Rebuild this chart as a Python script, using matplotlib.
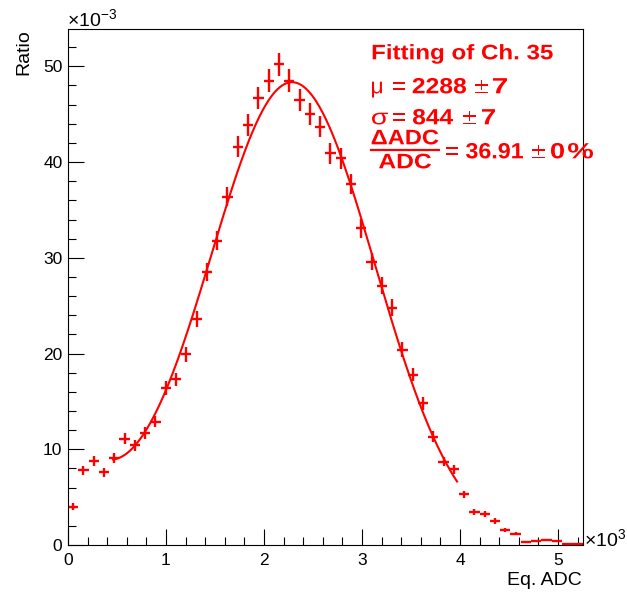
import numpy as np
import matplotlib
matplotlib.use('Agg')
import matplotlib.pyplot as plt
from matplotlib.lines import Line2D
from matplotlib.textpath import TextPath
from matplotlib.patches import PathPatch
from matplotlib.transforms import Affine2D
from matplotlib.font_manager import FontProperties

plt.rcParams['font.family'] = ['Liberation Sans', 'DejaVu Sans']
plt.rcParams['mathtext.fontset'] = 'custom'
plt.rcParams['mathtext.rm'] = 'Liberation Sans'
plt.rcParams['mathtext.it'] = 'Liberation Sans'
plt.rcParams['mathtext.bf'] = 'Liberation Sans:bold'

# histogram: 50 bins over 0..5250 (x in 10^3 units), ratio in 10^-3
bin_width = 0.105
bin_centers = np.arange(50) * bin_width + bin_width / 2
ratio = [4.0, 7.8, 8.8, 7.6, 9.1, 11.1, 10.4, 11.7, 12.9, 16.4,
         17.3, 19.9, 23.6, 28.5, 31.8, 36.4, 41.6, 43.9, 46.7, 48.5,
         50.2, 48.5, 46.5, 45.0, 43.7, 40.9, 40.4, 37.7, 33.1, 29.6,
         27.1, 24.8, 20.4, 17.8, 14.8, 11.3, 8.7, 7.9, 5.3, 3.4,
         3.2, 2.5, 1.6, 1.2, 0.3, 0.4, 0.5, 0.4, 0.15, 0.15]
ratio_err = [0.34, 0.47, 0.50, 0.47, 0.51, 0.57, 0.55, 0.58, 0.61, 0.69,
             0.71, 0.76, 0.83, 0.91, 0.96, 1.03, 1.10, 1.13, 1.16, 1.18,
             1.20, 1.18, 1.16, 1.14, 1.12, 1.09, 1.08, 1.04, 0.98, 0.92,
             0.88, 0.85, 0.77, 0.72, 0.65, 0.57, 0.50, 0.48, 0.39, 0.31,
             0.30, 0.27, 0.22, 0.19, 0.09, 0.11, 0.12, 0.11, 0.07, 0.07]

# fit result (gaus + expo background)
fit_amp, fit_mu, fit_sigma = 48.3, 2.288, 0.844
bkg_amp, bkg_tau = 13.6, 0.40
fit_range = (0.46, 3.97)

W, H = 627, 592
red = '#ff0000'
fig = plt.figure(figsize=(W / 100, H / 100), dpi=100)


def fx(x):
    return x / W


def fy(y):
    return 1 - y / H


ax = fig.add_axes([fx(68), fy(545), (582.5 - 68) / W, (545 - 29) / H])

ax.errorbar(bin_centers, ratio, xerr=bin_width / 2, yerr=ratio_err,
            fmt='none', ecolor=red, elinewidth=1.7, capsize=0)

xf = np.linspace(fit_range[0], fit_range[1], 300)
yf = fit_amp * np.exp(-0.5 * ((xf - fit_mu) / fit_sigma) ** 2) + bkg_amp * np.exp(-xf / bkg_tau)
ax.plot(xf, yf, color=red, lw=1.5)

ax.set_xlim(0, 5.25)
ax.set_ylim(0, 53.9)
ax.set_xticks([0, 1, 2, 3, 4, 5])
ax.set_xticks(np.arange(0, 5.25, 0.2), minor=True)
ax.set_yticks([0, 10, 20, 30, 40, 50])
ax.set_yticks(np.arange(0, 54, 2), minor=True)
ax.tick_params(which='both', direction='in', top=False, right=False,
               width=0.8, labelsize=12.5)
ax.tick_params(which='major', length=11.5)
ax.tick_params(which='minor', length=6)
ax.tick_params(axis='x', pad=6)
ax.tick_params(axis='y', pad=4)
for s in ax.spines.values():
    s.set_linewidth(0.8)

fig.text(fx(24), fy(29), 'Ratio', rotation=90, ha='center', va='top', fontsize=14)
fig.text(fx(582), fy(585), 'Eq. ADC', ha='right', va='baseline', fontsize=14)
fig.text(fx(67), fy(26), r'$\times10^{-3}$', ha='left', va='baseline', fontsize=14)
fig.text(fx(584), fy(546), r'$\times10^{3}$', ha='left', va='baseline', fontsize=14)


# fit box text: ROOT draws it wider than Liberation, so stretch each piece
def put(s, x0, x1, base, weight='bold', em=22):
    tp = TextPath((0, 0), s, size=em,
                  prop=FontProperties(family='Liberation Sans', weight=weight))
    bb = tp.get_extents()
    sx = (x1 - x0) / bb.width
    tr = Affine2D().translate(-bb.x0, 0).scale(sx, 1).translate(x0, H - base)
    fig.add_artist(PathPatch(tp, transform=tr, facecolor=red, edgecolor='none'))


put('Fitting of Ch. 35', 372.7, 552.7, 59.3, em=21)

put('μ', 372, 382, 93.3, weight='normal')
put('=', 393, 405, 93.3)
put('2288', 412.7, 466, 93.3)
put('±', 475, 488, 93.3, weight='normal')
put('7', 493, 507, 93.3)

put('σ', 372, 388, 124.3, weight='normal')
put('=', 393, 405, 124.3)
put('844', 413, 453, 124.3)
put('±', 463, 476, 124.3, weight='normal')
put('7', 482, 495, 124.3)

put('ΔADC', 371.7, 438.3, 144.3, em=21)
put('ADC', 379, 431, 168.3, em=21)
fig.add_artist(Line2D([fx(371), fx(439)], [fy(149.5), fy(149.5)], color=red, lw=1.6))
put('=', 446, 458, 158.3)
put('36.91', 466, 523, 158.3)
put('±', 532, 545, 158.3, weight='normal')
put('0', 551, 564, 158.3)
put('%', 568, 593, 158.3)

fig.savefig('out.png', dpi=100)
